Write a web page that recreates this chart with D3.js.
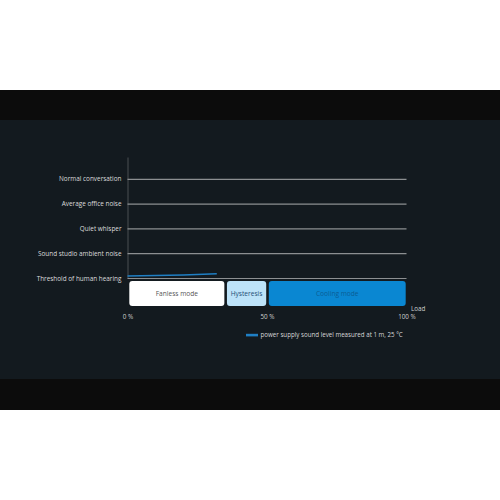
<!DOCTYPE html>
<html>
<head>
<meta charset="utf-8">
<script src="https://cdn.jsdelivr.net/npm/d3@7"></script>
<style>
  body { margin: 0; background: #fff; }
  text { font-family: "Open Sans", sans-serif; }
</style>
</head>
<body>
<div class="graph"></div>
<script>
// noise levels, equally spaced on the chart (one step = 10 units)
var levelValues = [0, 10, 20, 30, 40];
var levelLabels = ["Threshold of human hearing", "Sound studio ambient noise",
                   "Quiet whisper", "Average office noise", "Normal conversation"];

// load ticks in %
var loadTicks = [0, 50, 100];

// operating modes along the load axis
var modeNames = ["Fanless mode", "Hysteresis", "Cooling mode"];
var modeStart = [0, 35, 50];
var modeEnd = [35, 50, 100];

// measured sound level (same units as levelValues) vs load
var lineLoad = [0, 10, 20, 32];
var lineLevel = [0.8, 1.0, 1.2, 1.7];

var legendText = "power supply sound level measured at 1 m, 25 \u00B0C";

var svg = d3.select(".graph").append("svg")
    .attr("width", 500)
    .attr("height", 500);

// dark panels behind the chart
svg.append("rect").attr("x", 0).attr("y", 90).attr("width", 500).attr("height", 320).attr("fill", "#0c0c0c");
svg.append("rect").attr("x", 0).attr("y", 120).attr("width", 500).attr("height", 259).attr("fill", "#131a1f");

var x = d3.scaleLinear().domain([0, 100]).range([127.5, 406.5]);
var y = d3.scaleLinear().domain([0, 48.8]).range([278, 157]);

// y axis with the noise labels and gridlines
var yAxis = d3.axisLeft(y)
    .tickValues(levelValues)
    .tickFormat(function(d, i) { return levelLabels[i]; })
    .tickSize(-(x(100) - x(0)))
    .tickSizeOuter(0)
    .tickPadding(6);

var gy = svg.append("g")
    .attr("transform", "translate(" + x(0) + ",0)")
    .call(yAxis);
gy.select(".domain").attr("stroke", "#4a4f53").attr("stroke-width", 1);
gy.selectAll(".tick line").attr("stroke", "#8c8f91").attr("stroke-width", 1.2);
gy.selectAll(".tick text").attr("fill", "#dcdcdc").style("font-size", "6.4px");

// modes
var modes = modeNames.map(function(n, i) { return {name: n, start: modeStart[i], end: modeEnd[i]}; });
var modeFill = ["#ffffff", "#bde3f9", "#0a87d2"];
var modeText = ["#555555", "#1d4f78", "#0a5d95"];

var gm = svg.selectAll(".mode").data(modes).enter().append("g").attr("class", "mode");
gm.append("rect")
    .attr("x", function(d) { return x(d.start) + 1.8; })
    .attr("y", 281)
    .attr("width", function(d) { return x(d.end) - x(d.start) - 2.6; })
    .attr("height", 25)
    .attr("rx", 3)
    .attr("fill", function(d, i) { return modeFill[i]; });
gm.append("text")
    .attr("x", function(d) { return (x(d.start) + x(d.end)) / 2 + 0.5; })
    .attr("y", 293.5)
    .attr("dy", "0.35em")
    .attr("text-anchor", "middle")
    .style("font-size", "6.6px")
    .attr("fill", function(d, i) { return modeText[i]; })
    .text(function(d) { return d.name; });

// x axis: only tick labels
var xAxis = d3.axisBottom(x)
    .tickValues(loadTicks)
    .tickFormat(function(d) { return d + " %"; })
    .tickSize(0)
    .tickPadding(0);
var gx = svg.append("g")
    .attr("transform", "translate(0,315)")
    .call(xAxis);
gx.select(".domain").remove();
gx.selectAll(".tick text").attr("fill", "#d0d0d0").style("font-size", "6.3px");

svg.append("text")
    .attr("x", 411)
    .attr("y", 309)
    .attr("dy", "0.35em")
    .attr("fill", "#d0d0d0")
    .style("font-size", "6.3px")
    .text("Load");

// sound level line
var lineData = lineLoad.map(function(l, i) { return {x: l, y: lineLevel[i]}; });
svg.append("path")
    .datum(lineData)
    .attr("fill", "none")
    .attr("stroke", "#1f7fc4")
    .attr("stroke-width", 1.6)
    .attr("d", d3.line().x(function(d) { return x(d.x); }).y(function(d) { return y(d.y); }));

// legend
svg.append("rect")
    .attr("x", 246).attr("y", 333.8).attr("width", 12).attr("height", 2.6)
    .attr("fill", "#1f7fc4");
svg.append("text")
    .attr("x", 260.5)
    .attr("y", 335)
    .attr("dy", "0.35em")
    .attr("fill", "#d8d8d8")
    .style("font-size", "6.2px")
    .text(legendText);
</script>
</body>
</html>
